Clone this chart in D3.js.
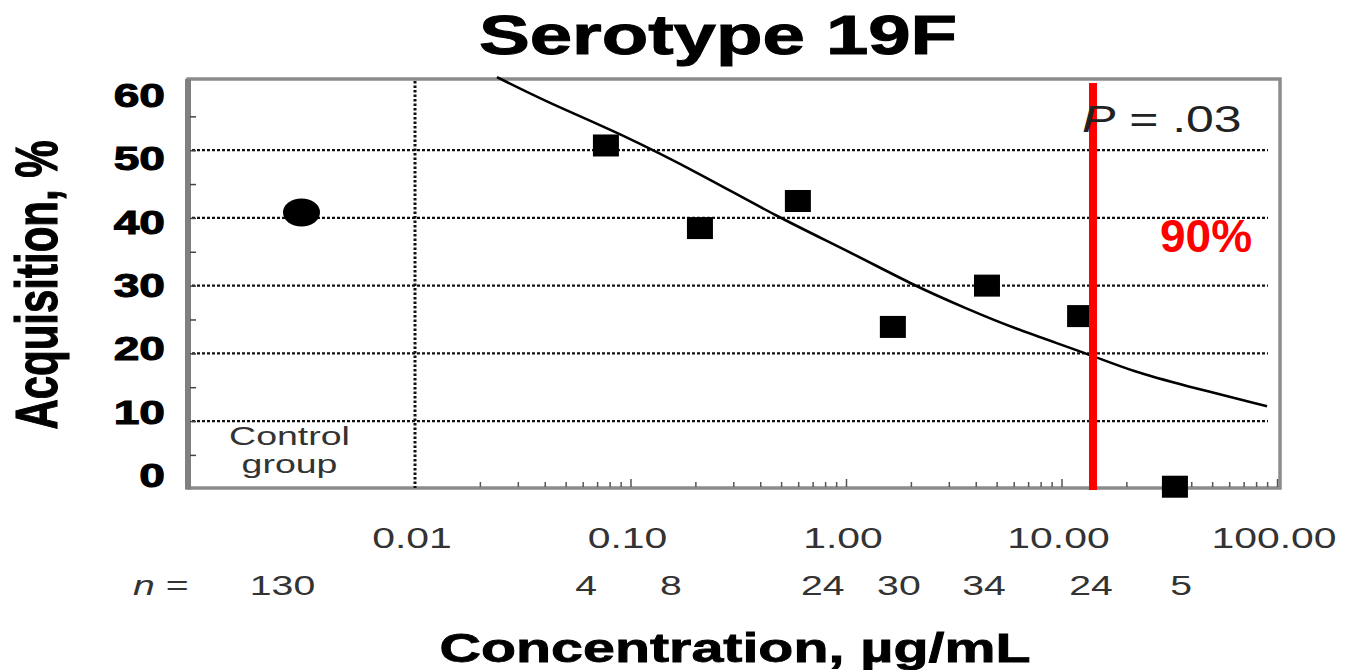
<!DOCTYPE html>
<html><head><meta charset="utf-8">
<script src="https://cdn.jsdelivr.net/npm/d3@7/dist/d3.min.js"></script>
<style>html,body{margin:0;padding:0;background:#fff;}svg{display:block;}</style>
</head><body>
<svg id="c" width="1354" height="670"></svg>
<script>
// ---------- data ----------
const titleText = "Serotype 19F";
const yTicks = [0, 10, 20, 30, 40, 50, 60];
const yMinorTicks = [5, 10, 15, 20, 25, 30, 35, 40, 45, 50, 55];
const yGrid = [10, 20, 30, 40, 50];
const xTicks = [0.01, 0.1, 1, 10, 100];
const xTickLabels = ["0.01", "0.10", "1.00", "10.00", "100.00"];
const controlValue = 40.8;
const controlN = "130";
const pointConc = [0.0769, 0.210, 0.598, 1.65, 4.51, 12.2, 33.6];
const pointValue = [50.7, 38.5, 42.5, 23.9, 30.0, 25.5, 0.3];
const nLabels = ["4", "8", "24", "30", "34", "24", "5"];
const nLabelConc = [0.0623, 0.154, 0.78, 1.76, 4.37, 13.7, 35.9];
const curveConc = [0.024, 0.0423, 0.0866, 0.217, 0.483, 1.04, 2.13, 3.64, 5.77, 13.6, 21.5, 36.6, 89.9];
const curveValue = [60.8, 56.9, 52.7, 46.3, 40.1, 35.0, 29.8, 26.6, 23.9, 19.8, 17.3, 15.3, 12.2];
const redLineConc = 14.0;
const redLabel = "90%";
const pLabel = ["P", " = .03"];

// ---------- layout ----------
const svg = d3.select("#c");
const frame = {left: 188, right: 1280, top: 79, bottom: 488};
const x = d3.scaleLog().domain([0.01, 100]).range([415, 1277]);
const xCtrl = d3.scalePoint().domain(["Control"]).range([frame.left, 415]).padding(0.5);
const y = d3.scaleLinear().domain([0, 60]).range([488.75, 82.5]);
const yLab = d3.scaleLinear().domain([0, 60]).range([475, 95]);
const FONT = "'Liberation Sans', Arial, Helvetica, sans-serif";

function txt(g, s, px, py, o) {
  const t = g.append("text")
    .attr("transform", `translate(${px},${py}) scale(${o.sx || 1},1)`)
    .attr("font-family", FONT)
    .attr("font-size", o.size)
    .attr("font-weight", o.weight || "normal")
    .attr("text-anchor", o.anchor || "middle")
    .attr("fill", o.fill || "#000")
    .text(s);
  if (o.stroke) t.attr("stroke", o.fill || "#000").attr("stroke-width", o.stroke);
  return t;
}

// frame
svg.append("rect").attr("x", frame.left).attr("y", frame.top)
  .attr("width", frame.right - frame.left).attr("height", frame.bottom - frame.top)
  .attr("fill", "#fff").attr("stroke", "#8c8c8c").attr("stroke-width", 3.5);
svg.append("line").attr("x1", frame.left).attr("x2", frame.left)
  .attr("y1", frame.top).attr("y2", frame.bottom + 1.5)
  .attr("stroke", "#808080").attr("stroke-width", 6);

// horizontal grid
svg.append("g").selectAll("line").data(yGrid).join("line")
  .attr("x1", frame.left + 4).attr("x2", 1268)
  .attr("y1", d => y(d)).attr("y2", d => y(d))
  .attr("stroke", "#111").attr("stroke-width", 2.2).attr("stroke-dasharray", "3,2");

// vertical dotted line at 0.01
svg.append("line").attr("x1", x(0.01)).attr("x2", x(0.01))
  .attr("y1", frame.top + 2).attr("y2", frame.bottom)
  .attr("stroke", "#111").attr("stroke-width", 3).attr("stroke-dasharray", "2.5,2");

// left minor ticks
const yAx = svg.append("g").attr("transform", `translate(${frame.left + 2},0)`)
  .call(d3.axisRight(y).tickValues(yMinorTicks).tickSize(6).tickFormat(""));
yAx.select(".domain").remove();
yAx.selectAll("line").attr("stroke", "#444").attr("stroke-width", 1.5);

// bottom ticks
const minor = [];
[0.01, 0.1, 1, 10].forEach(d => { for (let m = 2; m <= 10; m++) minor.push(d * m); });
const xAx = svg.append("g").attr("transform", `translate(0,${frame.bottom - 1})`)
  .call(d3.axisTop(x).tickValues(minor).tickSize(5).tickFormat(""));
xAx.select(".domain").remove();
xAx.selectAll("line").attr("stroke", "#555").attr("stroke-width", 1.5)
  .attr("y2", d => xTicks.includes(+d.toPrecision(3)) ? -8 : -5);

// fitted curve
const curveData = curveConc.map((c, i) => [c, curveValue[i]]);
svg.append("path").datum(curveData)
  .attr("d", d3.line().x(d => x(d[0])).y(d => y(d[1])).curve(d3.curveBasis))
  .attr("fill", "none").attr("stroke", "#000").attr("stroke-width", 2.6);

// points
svg.append("g").selectAll("rect").data(pointConc.map((c, i) => [c, pointValue[i]])).join("rect")
  .attr("x", d => x(d[0]) - 13).attr("y", d => y(d[1]) - 11)
  .attr("width", 26).attr("height", 22).attr("fill", "#000");

// control
svg.append("ellipse").attr("cx", xCtrl("Control")).attr("cy", y(controlValue))
  .attr("rx", 18.5).attr("ry", 14).attr("fill", "#000");
txt(svg, "Control", xCtrl("Control") - 12, 445, {size: 25, sx: 1.5, fill: "#333"});
txt(svg, "group", xCtrl("Control") - 12, 473, {size: 25, sx: 1.5, fill: "#333"});

// red line and label
svg.append("line").attr("x1", x(redLineConc)).attr("x2", x(redLineConc))
  .attr("y1", 83).attr("y2", 490).attr("stroke", "#ff0000").attr("stroke-width", 8);
txt(svg, redLabel, 1160, 252, {size: 46, weight: "bold", anchor: "start", fill: "#ff0000"});

// P value
const pt = txt(svg, "", 1082, 132, {size: 37, sx: 1.35, anchor: "start", fill: "#222"});
pt.append("tspan").attr("font-style", "italic").text(pLabel[0]);
pt.append("tspan").text(pLabel[1]);

// y tick labels
yTicks.forEach(v => txt(svg, String(v), 165, yLab(v) + 12, {size: 33, weight: "bold", sx: 1.4, anchor: "end", stroke: 1}));

// x tick labels
xTicks.forEach((v, i) => txt(svg, xTickLabels[i], x(v) - 3, 548, {size: 29, sx: 1.41, fill: "#333"}));

// n labels
const nt = txt(svg, "", 133, 595, {size: 28, sx: 1.4, anchor: "start", fill: "#333"});
nt.append("tspan").attr("font-style", "italic").text("n");
nt.append("tspan").text(" =");
txt(svg, controlN, xCtrl("Control") - 19, 595, {size: 28, sx: 1.4, fill: "#333"});
nLabels.forEach((s, i) => txt(svg, s, x(nLabelConc[i]), 595, {size: 28, sx: 1.4, fill: "#333"}));

// titles
txt(svg, titleText, 718, 54, {size: 56, weight: "bold", sx: 1.36, stroke: 1});
txt(svg, "Concentration, \u00b5g/mL", 735, 662, {size: 41, weight: "bold", sx: 1.4, stroke: 0.8});
svg.append("text")
  .attr("transform", "translate(57,285) rotate(-90) scale(1,1.4)")
  .attr("font-family", FONT).attr("font-size", 42).attr("font-weight", "bold")
  .attr("text-anchor", "middle").attr("fill", "#000")
  .attr("stroke", "#000").attr("stroke-width", 0.8)
  .text("Acquisition, %");
</script>
</body></html>
